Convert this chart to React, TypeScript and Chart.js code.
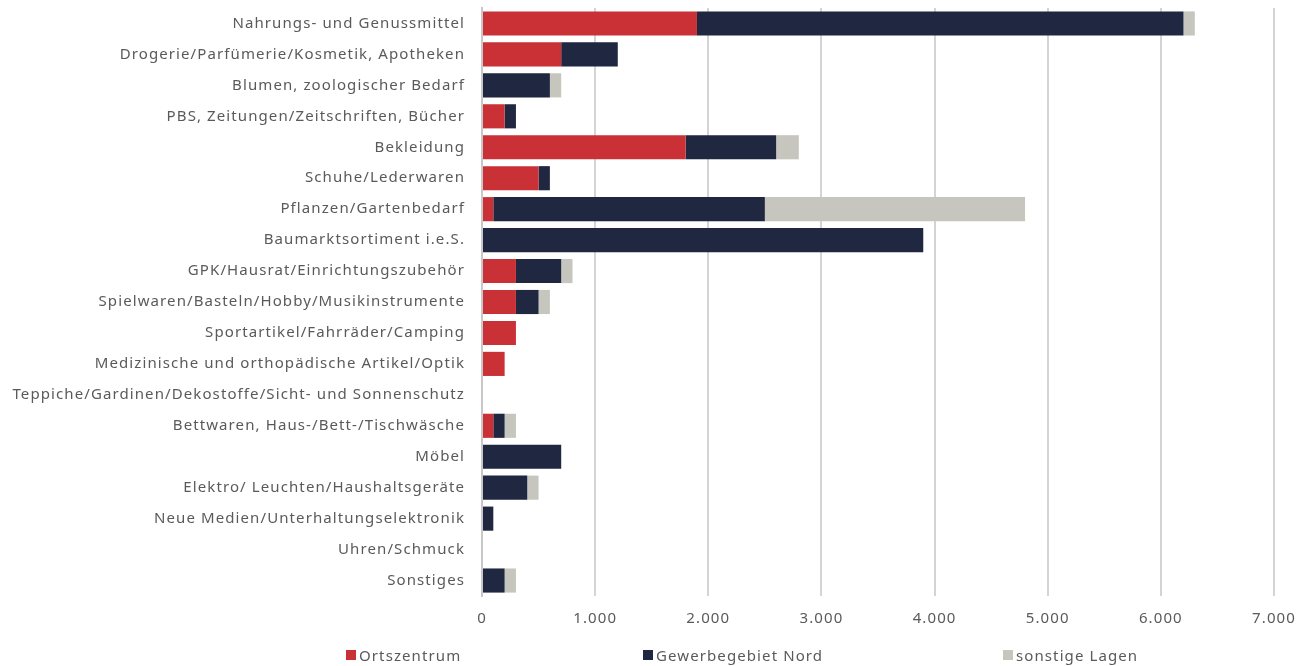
import React, { useEffect, useRef } from "react";
import { Chart, registerables } from "chart.js";

Chart.register(...registerables);

const categories = [
  "Nahrungs- und Genussmittel",
  "Drogerie/Parfümerie/Kosmetik, Apotheken",
  "Blumen, zoologischer Bedarf",
  "PBS, Zeitungen/Zeitschriften, Bücher",
  "Bekleidung",
  "Schuhe/Lederwaren",
  "Pflanzen/Gartenbedarf",
  "Baumarktsortiment i.e.S.",
  "GPK/Hausrat/Einrichtungszubehör",
  "Spielwaren/Basteln/Hobby/Musikinstrumente",
  "Sportartikel/Fahrräder/Camping",
  "Medizinische und orthopädische Artikel/Optik",
  "Teppiche/Gardinen/Dekostoffe/Sicht- und Sonnenschutz",
  "Bettwaren, Haus-/Bett-/Tischwäsche",
  "Möbel",
  "Elektro/ Leuchten/Haushaltsgeräte",
  "Neue Medien/Unterhaltungselektronik",
  "Uhren/Schmuck",
  "Sonstiges",
];

const ortszentrum = [1900, 700, 0, 200, 1800, 500, 100, 0, 300, 300, 300, 200, 0, 100, 0, 0, 0, 0, 0];
const gewerbegebietNord = [4300, 500, 600, 100, 800, 100, 2400, 3900, 400, 200, 0, 0, 0, 100, 700, 400, 100, 0, 200];
const sonstigeLagen = [100, 0, 100, 0, 200, 0, 2300, 0, 100, 100, 0, 0, 0, 100, 0, 100, 0, 0, 100];

const seriesNames = ["Ortszentrum", "Gewerbegebiet Nord", "sonstige Lagen"];
const seriesColors = ["#C93136", "#1F2741", "#C6C6BF"];

const xTicks = [0, 1000, 2000, 3000, 4000, 5000, 6000, 7000];

const FONT = "'Noto Sans', sans-serif";
const TEXT = "#5A5A5A";
const SPACING = "1.1px";

function fmt(v: number): string {
  const s = String(Math.round(v));
  return s.replace(/\B(?=(\d{3})+(?!\d))/g, ".");
}

const spacingPlugin = {
  id: "letterSpacing",
  beforeLayout(chart: any) {
    (chart.ctx as any).letterSpacing = SPACING;
  },
  beforeDraw(chart: any) {
    (chart.ctx as any).letterSpacing = SPACING;
  },
};

export default function App() {
  const ref = useRef<HTMLCanvasElement | null>(null);

  useEffect(() => {
    if (!ref.current) return;
    const chart = new Chart(ref.current, {
      type: "bar",
      plugins: [spacingPlugin],
      data: {
        labels: categories,
        datasets: [ortszentrum, gewerbegebietNord, sonstigeLagen].map((d, i) => ({
          label: seriesNames[i],
          data: d,
          backgroundColor: seriesColors[i],
          borderWidth: 0,
          barPercentage: 0.78,
          categoryPercentage: 1,
        })),
      },
      options: {
        indexAxis: "y",
        animation: false,
        responsive: false,
        maintainAspectRatio: false,
        layout: { padding: { top: 8, right: 34, bottom: 0, left: 0 } },
        plugins: {
          legend: { display: false },
          tooltip: { enabled: false },
        },
        scales: {
          x: {
            stacked: true,
            min: 0,
            max: 7000,
            afterBuildTicks: (scale: any) => {
              scale.ticks = xTicks.map((v) => ({ value: v }));
            },
            afterFit: (scale: any) => {
              scale.height = 70;
              scale.paddingLeft = 0;
              scale.paddingRight = 0;
            },
            ticks: {
              padding: 14,
              color: TEXT,
              font: { family: FONT, size: 15 },
              callback: (v: any) => fmt(Number(v)),
            },
            grid: { color: "#D4D4D4", lineWidth: 2, drawTicks: false },
            border: { display: false },
          },
          y: {
            stacked: true,
            afterFit: (scale: any) => {
              scale.width = 482;
              scale.paddingTop = 0;
              scale.paddingBottom = 0;
            },
            ticks: {
              padding: 17,
              color: TEXT,
              font: { family: FONT, size: 15 },
              autoSkip: false,
            },
            grid: { display: false, drawTicks: false },
            border: { display: true, color: "#C8C8C8", width: 2 },
          },
        },
      },
    });
    return () => chart.destroy();
  }, []);

  const legendPos = [346, 643, 1003];

  return (
    <div style={{ position: "absolute", left: 0, top: 0, width: 1308, height: 666, background: "#fff" }}>
      <canvas ref={ref} width={1308} height={666} style={{ position: "absolute", left: 0, top: 0, width: 1308, height: 666 }} />
      {seriesNames.map((n, i) => (
        <div
          key={n}
          style={{
            position: "absolute",
            left: legendPos[i],
            top: 645,
            height: 20,
            display: "flex",
            alignItems: "center",
            fontFamily: FONT,
            fontSize: 15,
            letterSpacing: SPACING,
            color: TEXT,
            whiteSpace: "nowrap",
          }}
        >
          <span style={{ display: "inline-block", width: 10, height: 10, background: seriesColors[i], marginRight: 3 }} />
          {n}
        </div>
      ))}
    </div>
  );
}
